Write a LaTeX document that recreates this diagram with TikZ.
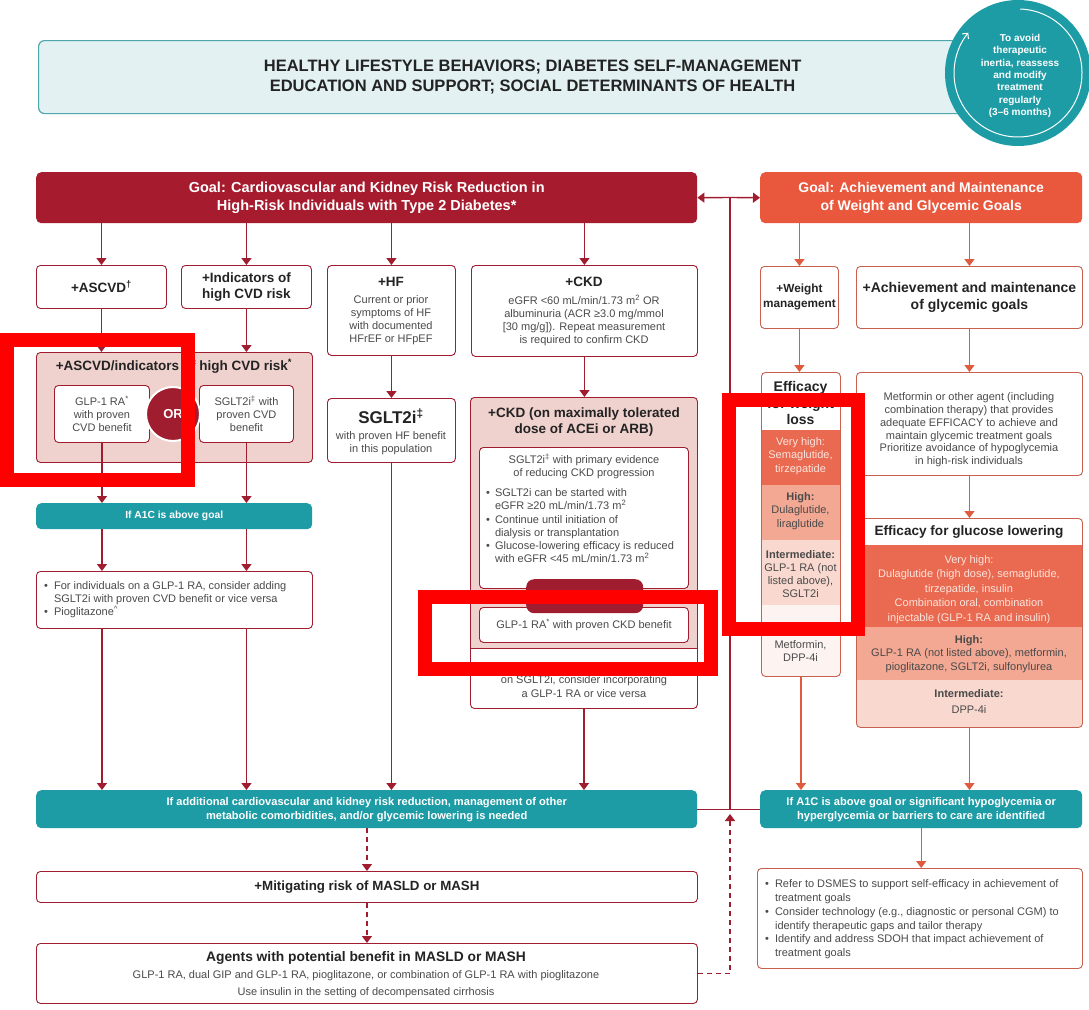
\documentclass[tikz,border=0pt]{standalone}
\usepackage{fontspec}
\setmainfont{Liberation Sans}
\usetikzlibrary{arrows.meta}
\definecolor{ckred}{HTML}{A01C2F}
\definecolor{goalred}{HTML}{A61C2E}
\definecolor{wtorange}{HTML}{E9573D}
\definecolor{wtline}{HTML}{C7604E}
\definecolor{wtarrow}{HTML}{E05A3E}
\definecolor{tealc}{HTML}{1E9CA5}
\definecolor{teallight}{HTML}{E3F1F2}
\definecolor{tealline}{HTML}{4FA7AE}
\definecolor{ckpink}{HTML}{EFD2CE}
\definecolor{vhigh}{HTML}{E96A50}
\definecolor{high}{HTML}{F2A893}
\definecolor{inter}{HTML}{F8D8CF}
\definecolor{neutr}{HTML}{FDF4F1}
\definecolor{txtgray}{HTML}{4A4A4A}
\definecolor{txtdark}{HTML}{232323}
\definecolor{vhtext}{HTML}{FCE4DD}
\definecolor{annred}{HTML}{FF0000}
\tikzset{
  box/.style  = {draw=ckred, line width=0.9pt, rounded corners=4pt, fill=white, inner sep=0pt, align=center, text=txtdark},
  wbox/.style = {box, draw=wtline},
  txt/.style  = {inner sep=0pt, align=center, text=txtgray, font=\fontsize{11}{13.2}\selectfont},
  head/.style = {inner sep=0pt, align=center, text=txtdark, font=\bfseries\fontsize{13.5}{16}\selectfont},
  goal/.style = {rounded corners=5pt, inner sep=0pt, align=center, text=white, font=\bfseries\fontsize{14.5}{18}\selectfont},
  bar/.style  = {fill=tealc, rounded corners=5pt, inner sep=0pt, align=center, text=white, font=\bfseries\fontsize{11.1}{14}\selectfont},
  arr/.style  = {color=ckred, line width=1.4pt, -{Triangle[width=10pt,length=7pt]}},
  warr/.style = {arr, color=wtarrow},
  dsh/.style  = {dash pattern=on 5pt off 4pt},
  note/.style = {draw=annred, line width=14pt},
}
\newcommand{\fnote}[1]{\textsuperscript{#1}}

\begin{document}
\begin{tikzpicture}[x=1pt, y=-1pt]
  \fill[white] (0,0) rectangle (1089,1009);
  \useasboundingbox (0,0) rectangle (1089,1009);

  % header and review circle
  \node[draw=tealline, fill=teallight, line width=1.2pt, rounded corners=6pt, minimum width=988, minimum height=73,
        anchor=north west, inner sep=0pt, align=center, text=txtdark, font=\bfseries\fontsize{16.5}{20}\selectfont]
        (hdr) at (38,40) {HEALTHY LIFESTYLE BEHAVIORS; DIABETES SELF-MANAGEMENT\\EDUCATION AND SUPPORT; SOCIAL DETERMINANTS OF HEALTH};
  \node[circle, fill=tealc, minimum size=146, inner sep=0pt] (cyc) at (1018,73) {};
  \draw[white, line width=1pt, -{Straight Barb[length=4pt,width=8pt]}] (cyc) ++(-88:64) arc[start angle=-88, end angle=219, radius=64];
  \node[inner sep=0pt, align=center, text=white, font=\bfseries\fontsize{10}{12.3}\selectfont] (cyc_t) at (1020,76)
        {To avoid\\therapeutic\\inertia, reassess\\and modify\\treatment\\regularly\\(3--6 months)};

  % goals
  \node[goal, fill=goalred, minimum width=661, minimum height=51, anchor=north west] (goal_l) at (36,172)
        {Goal: Cardiovascular and Kidney Risk Reduction in\\High-Risk Individuals with Type 2 Diabetes*};
  \node[goal, fill=wtorange, font=\bfseries\fontsize{14}{18}\selectfont, minimum width=322, minimum height=51, anchor=north west] (goal_r) at (760,172)
        {Goal: Achievement and Maintenance\\of Weight and Glycemic Goals};

  % left column: first row
  \node[box, font=\bfseries\fontsize{13.5}{16}\selectfont, minimum width=130, minimum height=43, anchor=north west] (ascvd) at (36,265) {+ASCVD\fnote{\textdagger}};
  \node[box, font=\bfseries\fontsize{13.5}{16}\selectfont, minimum width=130, minimum height=43, anchor=north west] (indic) at (181,265) {+Indicators of\\high CVD risk};
  \node[box, minimum width=128, minimum height=90, anchor=north west] (hf) at (327,265) {};
  \node[head] (hf_h) at (391,282) {+HF};
  \node[txt] (hf_b) at (391,320) {Current or prior\\symptoms of HF\\with documented\\HFrEF or HFpEF};
  \node[box, minimum width=226, minimum height=91, anchor=north west] (ckd) at (471,265) {};
  \node[head] (ckd_h) at (584,282) {+CKD};
  \node[txt] (ckd_b1) at (584,320.5) {eGFR <60 mL/min/1.73 m\fnote{2} OR\\albuminuria (ACR ≥3.0 mg/mmol\\{[}30 mg/g{]}). Repeat measurement\\is required to confirm CKD};

  % ASCVD / indicators
  \node[box, fill=ckpink, minimum width=276, minimum height=110, anchor=north west] (asc_ind) at (36,352) {};
  \node[head] (asc_ind_t) at (174,366) {+ASCVD/indicators of high CVD risk\fnote{*}};
  \node[box, txt, minimum width=95, minimum height=57, anchor=north west] (glp) at (54,385) {GLP-1 RA\fnote{*}\\with proven\\CVD benefit};
  \node[box, txt, minimum width=94, minimum height=57, anchor=north west] (sglc) at (199,385) {SGLT2i\fnote{\textdaggerdbl} with\\proven CVD\\benefit};
  \node[circle, fill=ckred, draw=white, line width=2pt, minimum size=54, inner sep=0pt, text=white,
        font=\bfseries\fontsize{13}{14}\selectfont] (or_c) at (173,414) {OR};
  \node[bar, font=\bfseries\fontsize{10.3}{14}\selectfont, minimum width=276, minimum height=26, anchor=north west] (a1c) at (36,503) {If A1C is above goal};
  \node[box, minimum width=276, minimum height=57, anchor=north west] (bul_l) at (36,571) {};
  \node[txt, anchor=west, align=left] (bul_l_t) at (44,600) {\begin{tabular}{@{}l@{\hspace{6pt}}l@{}}
    \textbullet & For individuals on a GLP-1 RA, consider adding\\
                & SGLT2i with proven CVD benefit or vice versa\\
    \textbullet & Pioglitazone\fnote{\textasciicircum}
  \end{tabular}};

  % HF
  \node[box, minimum width=128, minimum height=64, anchor=north west] (hf_s) at (327,398) {};
  \node[head, font=\bfseries\fontsize{17}{20}\selectfont] (hf_s_h) at (391,416) {SGLT2i\fnote{\textdaggerdbl}};
  \node[txt] (hf_s_b) at (391,443.5) {with proven HF benefit\\in this population};

  % CKD on ACEi or ARB
  \begin{scope}
    \clip[rounded corners=4pt] (470,397) rectangle (697,708);
    \fill[ckpink] (470,397) rectangle (697,648);
    \fill[white] (470,648) rectangle (697,708);
  \end{scope}
  \node[box, fill=none, minimum width=227, minimum height=311, anchor=north west] (ckd_t) at (470,397) {};
  \draw[ckred, line width=0.9pt] (ckd_t.west |- 0,648) -- (ckd_t.east |- 0,648);
  \node[head] (ckd_tt) at (584,422) {+CKD (on maximally tolerated\\dose of ACEi or ARB)};
  \node[box, minimum width=209, minimum height=141, anchor=north west] (ckd_s) at (479,447) {};
  \node[txt] (ckd_s1) at (584,466.5) {SGLT2i\fnote{\textdaggerdbl} with primary evidence\\of reducing CKD progression};
  \node[txt, anchor=west, align=left] (ckd_s2) at (486,527) {\begin{tabular}{@{}l@{\hspace{5pt}}l@{}}
    \textbullet & SGLT2i can be started with\\
                & eGFR ≥20 mL/min/1.73 m\fnote{2}\\
    \textbullet & Continue until initiation of\\
                & dialysis or transplantation\\
    \textbullet & Glucose-lowering efficacy is reduced\\
                & with eGFR <45 mL/min/1.73 m\fnote{2}
  \end{tabular}};
  \node[box, txt, minimum width=209, minimum height=35, anchor=north west] (ckd_g) at (479,607) {GLP-1 RA\fnote{*} with proven CKD benefit};
  \node[fill=ckred, rounded corners=8pt, minimum width=117, minimum height=34, anchor=north west] (ckd_and) at (526,579) {};
  \node[txt] (ckd_v) at (584,680) {For individuals with CKD\\on SGLT2i, consider incorporating\\a GLP-1 RA or vice versa};

  % bottom left
  \node[bar, minimum width=661, minimum height=38, anchor=north west] (bar_l) at (36,790)
        {If additional cardiovascular and kidney risk reduction, management of other\\metabolic comorbidities, and/or glycemic lowering is needed};
  \node[box, font=\bfseries\fontsize{13.3}{16}\selectfont, minimum width=661, minimum height=31, anchor=north west] (mitig) at (36,871) {+Mitigating risk of MASLD or MASH};
  \node[box, minimum width=661, minimum height=60, anchor=north west] (agents) at (36,943) {};
  \node[head, font=\bfseries\fontsize{13.8}{16}\selectfont] (agents_h) at (366,958) {Agents with potential benefit in MASLD or MASH};
  \node[txt, font=\fontsize{11}{17}\selectfont] (agents_b) at (366,984.5) {GLP-1 RA, dual GIP and GLP-1 RA, pioglitazone, or combination of GLP-1 RA with pioglitazone\\Use insulin in the setting of decompensated cirrhosis};

  % right column
  \node[wbox, font=\bfseries\fontsize{11.8}{15}\selectfont, minimum width=78, minimum height=62, anchor=north west] (w_mgmt) at (760,266) {+Weight\\management};
  \node[wbox, font=\bfseries\fontsize{14}{17}\selectfont, minimum width=226, minimum height=62, anchor=north west] (achv) at (856,266) {+Achievement and maintenance\\of glycemic goals};
  \node[wbox, minimum width=226, minimum height=103, anchor=north west] (metf) at (856,372) {};
  \node[txt] (metf_1) at (969,417) {Metformin or other agent (including\\combination therapy) that provides\\adequate EFFICACY to achieve and\\maintain glycemic treatment goals};
  \node[txt] (metf_2) at (969,455.5) {Prioritize avoidance of hypoglycemia\\in high-risk individuals};

  \begin{scope}
    \clip[rounded corners=4pt] (761,372) rectangle (840,676);
    \fill[white] (761,372) rectangle (840,430);
    \fill[vhigh] (761,430) rectangle (840,485);
    \fill[high]  (761,485) rectangle (840,540);
    \fill[inter] (761,540) rectangle (840,605);
    \fill[neutr] (761,605) rectangle (840,676);
  \end{scope}
  \node[wbox, fill=none, minimum width=79, minimum height=304, anchor=north west] (eff_w) at (761,372) {};
  \node[head, font=\bfseries\fontsize{14}{16.5}\selectfont] (eff_w_h) at (800.5,403) {Efficacy\\for weight\\loss};
  \node[txt, text=vhtext] (eff_w_vh) at (800.5,456) {Very high:\\Semaglutide,\\tirzepatide};
  \node[txt] (eff_w_hi) at (800.5,511) {\textbf{High:}\\Dulaglutide,\\liraglutide};
  \node[txt] (eff_w_in) at (800.5,574) {\textbf{Intermediate:}\\GLP-1 RA (not\\listed above),\\SGLT2i};
  \node[txt] (eff_w_ne) at (800.5,651) {Metformin,\\DPP-4i};

  \begin{scope}
    \clip[rounded corners=4pt] (856,518) rectangle (1082,727);
    \fill[white] (856,518) rectangle (1082,545);
    \fill[vhigh] (856,545) rectangle (1082,627);
    \fill[high]  (856,627) rectangle (1082,680);
    \fill[inter] (856,680) rectangle (1082,727);
  \end{scope}
  \node[wbox, fill=none, minimum width=226, minimum height=209, anchor=north west] (eff_g) at (856,518) {};
  \node[head, font=\bfseries\fontsize{13.6}{15}\selectfont] (eff_g_h) at (969,532) {Efficacy for glucose lowering};
  \node[txt, text=vhtext, font=\fontsize{11}{14.5}\selectfont] (eff_g_vh) at (969,589.5) {Very high:\\Dulaglutide (high dose), semaglutide,\\tirzepatide, insulin\\Combination oral, combination\\injectable (GLP-1 RA and insulin)};
  \node[txt] (eff_g_hi) at (969,654) {\textbf{High:}\\GLP-1 RA (not listed above), metformin,\\pioglitazone, SGLT2i, sulfonylurea};
  \node[txt, font=\fontsize{11}{16}\selectfont] (eff_g_in) at (969,702) {\textbf{Intermediate:}\\DPP-4i};

  \node[bar, minimum width=322, minimum height=38, anchor=north west] (bar_r) at (760,790)
        {If A1C is above goal or significant hypoglycemia or\\hyperglycemia or barriers to care are identified};
  \node[wbox, minimum width=325, minimum height=100, anchor=north west] (bul_r) at (757,868) {};
  \node[txt, anchor=west, align=left, font=\fontsize{11}{13.8}\selectfont] (bul_r_t) at (765,919.5) {\begin{tabular}{@{}l@{\hspace{6pt}}l@{}}
    \textbullet & Refer to DSMES to support self-efficacy in achievement of\\
                & treatment goals\\
    \textbullet & Consider technology (e.g., diagnostic or personal CGM) to\\
                & identify therapeutic gaps and tailor therapy\\
    \textbullet & Identify and address SDOH that impact achievement of\\
                & treatment goals
  \end{tabular}};

  % connectors, left
  \foreach \b in {ascvd, indic, hf, ckd}
    \draw[arr] (goal_l.south -| \b.north) -- (\b.north);
  \draw[arr] (ascvd.south) -- (ascvd.south |- asc_ind.north);
  \draw[arr] (indic.south) -- (indic.south |- asc_ind.north);
  \draw[arr] (hf.south) -- (hf_s.north);
  \draw[arr] (ckd.south) -- (ckd.south |- ckd_t.north);
  \foreach \b in {glp, sglc} {
    \draw[arr] (\b.south) -- (\b.south |- a1c.north);
    \draw[arr] (a1c.south -| \b.south) -- (bul_l.north -| \b.south);
    \draw[arr] (bul_l.south -| \b.south) -- (bar_l.north -| \b.south);
  }
  \draw[arr] (hf_s.south) -- (hf_s.south |- bar_l.north);
  \draw[arr] (ckd_t.south) -- (ckd_t.south |- bar_l.north);
  \draw[arr, dsh] (bar_l.south -| mitig.north) -- (mitig.north);
  \draw[arr, dsh] (mitig.south) -- (agents.north);

  % connectors, right
  \draw[warr] (goal_r.south -| w_mgmt.north) -- (w_mgmt.north);
  \draw[warr] (goal_r.south -| achv.north) -- (achv.north);
  \draw[warr] (w_mgmt.south) -- (w_mgmt.south |- eff_w.north);
  \draw[warr] (achv.south) -- (metf.north);
  \draw[warr] (metf.south) -- (eff_g.north);
  \draw[warr] (eff_w.south) -- (eff_w.south |- bar_r.north);
  \draw[warr] (eff_g.south) -- (eff_g.south |- bar_r.north);
  \draw[warr] (bar_r.south) -- (bar_r.south |- bul_r.north);

  % reassessment loop
  \coordinate (loop_t) at (730,197.5);
  \coordinate (loop_b) at (730,809);
  \coordinate (loop_d) at (730,814);
  \draw[ckred, line width=1.4pt] (bar_l.east) -- (bar_r.west);
  \draw[ckred, line width=1.4pt] (loop_b) -- (loop_t);
  \draw[arr] (loop_t) -- (goal_l.east);
  \draw[arr] (loop_t) -- (goal_r.west);
  \draw[arr, dsh] (agents.east) -| (loop_d);

  % highlight frames
  \draw[note] (7,340) rectangle (188,480);
  \draw[note] (425,597) rectangle (711,669);
  \draw[note] (729,400) rectangle (858,629);
\end{tikzpicture}
\end{document}
